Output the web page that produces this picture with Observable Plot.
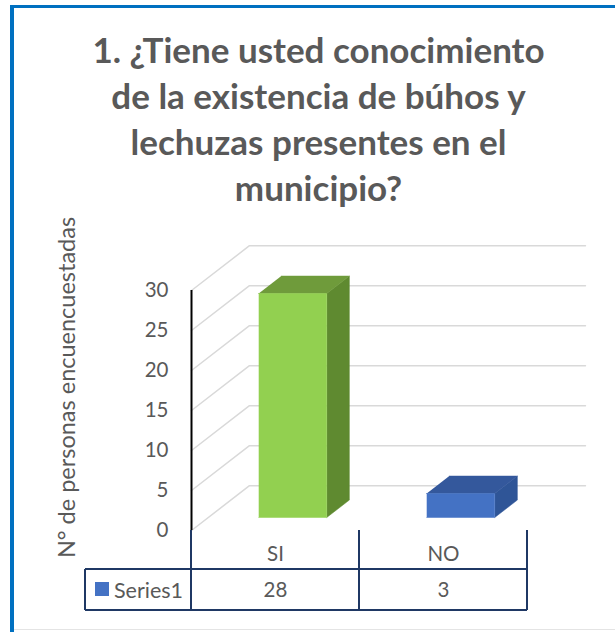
<!DOCTYPE html>
<html>
<head>
<meta charset="utf-8">
<script src="https://cdn.jsdelivr.net/npm/d3@7"></script>
<script src="https://cdn.jsdelivr.net/npm/@observablehq/plot@0.6"></script>
<style>
  body { margin: 0; background: #fff; }
  #wrap { position: relative; width: 615px; height: 632px; overflow: hidden; font-family: Lato, "Open Sans", sans-serif; }
  #frame { position: absolute; left: 10px; top: 5px; width: 640px; height: 660px; border-left: 4px solid #0070C0; border-top: 3px solid #0070C0; box-sizing: border-box; pointer-events: none; }
  #bottomline { position: absolute; left: 14px; top: 629px; width: 601px; height: 1px; background: #e4e4e4; }
  #title { position: relative; box-sizing: border-box; height: 210px; padding-top: 26px; padding-left: 22px; text-align: center; font-weight: 700; font-size: 35px; line-height: 46px; color: #595959; white-space: nowrap; }
  #chart { position: relative; }
  #chart svg { overflow: visible; }
</style>
</head>
<body>
<div id="wrap">
  <div id="frame"></div>
  <div id="bottomline"></div>
  <div id="title"></div>
  <div id="chart"></div>
</div>
<script>
// ---- data ----
const titleLines = ["1. ¿Tiene usted conocimiento", "de la existencia de búhos y", "lechuzas presentes en el", "municipio?"];
const categories = ["SI", "NO"];
const values = [28, 3];
const seriesName = "Series1";
const yTicks = [0, 5, 10, 15, 20, 25, 30];
const yLabel = "N° de personas encuencuestadas";

// ---- style ----
const frontColors = ["#92D050", "#4472C4"];
const sideColors = ["#5F8A30", "#2F5597"];
const topColors = ["#6F9B3B", "#34589C"];
const gridColor = "#D9D9D9";
const tableColor = "#1F3864";
const textColor = "#595959";

document.getElementById("title").innerHTML = titleLines.join("<br>");

// oblique 3D projection expressed in data units
const KX = 0.345;   // x shift (category units) for full depth
const KY = 5.6;     // y shift (value units) for full depth
const Z0 = 0.29, Z1 = 0.68;       // bar depth extent
const BX0 = 0.30, BX1 = 0.705;    // bar extent inside a category
const proj = (x, y, z) => ({x: x + z * KX, y: y + z * KY});

// gridlines: front-left diagonal then back wall horizontal
const grid = yTicks.flatMap(t => [
  {t, ...proj(0, t, 0)},
  {t, ...proj(0, t, 1)},
  {t, ...proj(categories.length, t, 1)}
]);

// bar faces
const faces = [];
values.forEach((v, i) => {
  const x0 = i + BX0, x1 = i + BX1;
  const add = (kind, pts) => pts.forEach(p => faces.push({id: kind + i, kind, i, ...proj(...p)}));
  add("side", [[x1, 0, Z0], [x1, 0, Z1], [x1, v, Z1], [x1, v, Z0]]);
  add("top", [[x0, v, Z0], [x1, v, Z0], [x1, v, Z1], [x0, v, Z1]]);
  add("front", [[x0, 0, Z0], [x1, 0, Z0], [x1, v, Z0], [x0, v, Z0]]);
});
const faceColor = d => d.kind === "front" ? frontColors[d.i] : d.kind === "side" ? sideColors[d.i] : topColors[d.i];

const catIdx = categories.map((c, i) => i);

const table = (index, scales) => {
  const x = scales.x, y = scales.y;
  const y0 = y(0);
  const rowTop = y0 + 39, rowBot = y0 + 80;
  const xs = d3.range(categories.length + 1).map(x);
  const left = xs[0] - 106;
  const right = xs[xs.length - 1];
  const g = d3.create("svg:g");
  const line = (x1, y1, x2, y2) => g.append("line")
    .attr("x1", x1).attr("y1", y1).attr("x2", x2).attr("y2", y2)
    .attr("stroke", tableColor).attr("stroke-width", 2);
  line(left, rowTop, right, rowTop);
  line(left, rowBot, right, rowBot);
  line(left, rowTop, left, rowBot);
  xs.forEach(xx => line(xx, y0, xx, rowBot));
  g.append("rect").attr("x", left + 10).attr("y", y0 + 52).attr("width", 14).attr("height", 14)
    .attr("fill", frontColors[1]);
  g.append("text").attr("x", left + 29).attr("y", y0 + 60).attr("dy", "0.35em")
    .attr("text-anchor", "start").attr("fill", textColor).attr("font-size", 21.5).text(seriesName);
  return g.node();
};

const plot = Plot.plot({
  width: 615,
  height: 422,
  marginTop: 80,
  marginBottom: 102,
  marginLeft: 191,
  marginRight: 88,
  style: {fontFamily: "Lato, 'Open Sans', sans-serif", fontSize: "20.5px", color: textColor, background: "transparent", overflow: "visible"},
  x: {type: "linear", domain: [0, categories.length], axis: null},
  y: {domain: [0, 30], ticks: yTicks, tickSize: 0, tickPadding: 23, label: null},
  marks: [
    Plot.line(grid, {x: "x", y: "y", z: "t", stroke: gridColor, strokeWidth: 1.5}),
    Plot.line(faces, {x: "x", y: "y", z: "id", fill: faceColor, stroke: faceColor, strokeWidth: 0.5}),
    Plot.ruleX([0], {y1: 0, y2: 30, stroke: "#000", strokeWidth: 2}),
    table,
    Plot.text(catIdx, {x: i => i + 0.5, y: () => 0, text: i => categories[i], dy: 24, fill: textColor}),
    Plot.text(catIdx, {x: i => i + 0.5, y: () => 0, text: i => String(values[i]), dy: 60, fill: textColor}),
    Plot.text([yLabel], {frameAnchor: "left", textAnchor: "middle", rotate: -90, dx: -124, dy: -23, fontSize: 23.5, fill: textColor})
  ]
});
document.getElementById("chart").appendChild(plot);
</script>
</body>
</html>
